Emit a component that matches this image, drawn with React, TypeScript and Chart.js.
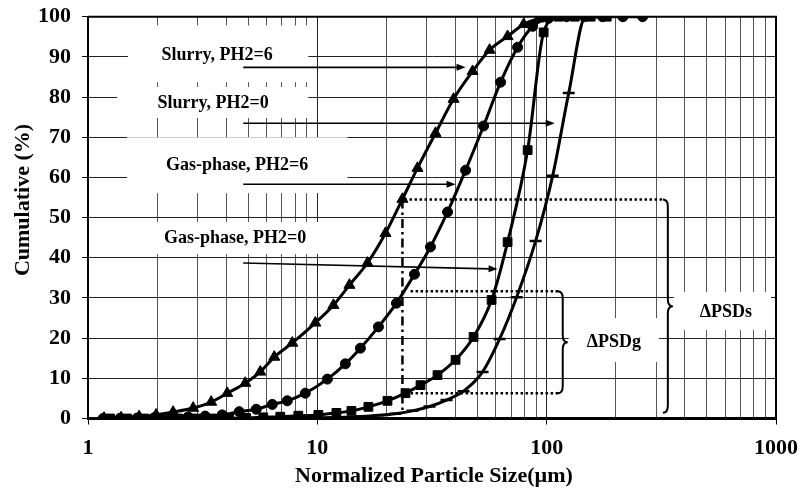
import React, { useEffect, useRef } from 'react';
import { Chart, registerables } from 'chart.js';

Chart.register(...registerables);

// ---- Data (x: normalized particle size in µm, y: cumulative %) ----
const slurry6X = [1.175, 1.394, 1.67, 1.981, 2.35, 2.874, 3.444, 4.046, 4.85, 5.639, 6.491, 7.779, 9.8, 11.75, 13.8, 16.54, 19.82, 23.5, 27.33, 32.76, 39.26, 47.53, 56.38, 67.55, 79.37, 92.29, 109.5];
const slurry6Y = [0.1, 0.2, 0.5, 0.9, 1.6, 2.6, 4.1, 6.3, 8.8, 11.6, 15.3, 18.8, 23.8, 28.2, 33.2, 38.7, 46.1, 54.6, 62.3, 71.0, 79.5, 86.4, 91.7, 95.1, 98.1, 99.5, 100];

const slurry0X = [1.163, 1.38, 1.637, 1.942, 2.304, 2.733, 3.243, 3.847, 4.564, 5.415, 6.362, 7.396, 8.862, 11.06, 13.25, 15.41, 18.47, 22.13, 26.52, 31.13, 36.97, 44.31, 53.07, 62.97, 74.69, 86.89, 102.0, 122.0, 146.0, 175.0, 215.0, 262.0];
const slurry0Y = [0, 0.05, 0.1, 0.2, 0.3, 0.4, 0.6, 0.9, 1.7, 2.3, 3.5, 4.4, 6.3, 9.8, 13.6, 17.5, 22.8, 28.7, 35.9, 42.7, 51.4, 61.8, 72.8, 83.7, 92.4, 97.6, 99.6, 100, 100, 100, 100, 100];

const gas6X = [1.248, 1.48, 1.756, 2.084, 2.472, 2.933, 3.479, 4.128, 4.897, 5.81, 6.893, 8.26, 10.1, 12.11, 14.08, 16.7, 20.22, 24.23, 28.18, 33.42, 40.06, 48.0, 57.52, 67.55, 82.61, 97.03, 112.8, 132.6, 155.6, 182.8];
const gas6Y = [0, 0, 0, 0, 0, 0, 0, 0.05, 0.15, 0.3, 0.45, 0.7, 0.9, 1.4, 1.9, 2.9, 4.4, 6.3, 8.3, 10.8, 14.6, 20.3, 29.5, 43.9, 66.8, 96.1, 100, 100, 100, 100];

const gas0X = [1.198, 1.422, 1.687, 2.001, 2.375, 2.818, 3.342, 3.966, 4.705, 5.581, 6.622, 7.857, 9.32, 11.06, 13.12, 15.57, 18.47, 21.9, 25.99, 30.84, 36.59, 43.41, 52.54, 62.35, 73.96, 89.54, 106.2, 124.8, 148.0, 175.6];
const gas0Y = [0, 0, 0, 0, 0, 0, 0, 0, 0, 0, 0, 0, 0.1, 0.2, 0.3, 0.5, 0.8, 1.2, 1.9, 3.0, 4.6, 6.8, 11.6, 19.8, 30.2, 44.2, 60.4, 81.0, 100, 100];

// ---- Axis ticks ----
const xDecades = [1, 10, 100];
const xMantissas = [1, 2, 3, 4, 5, 6, 7, 8, 9];
const xMax = 1000;
const yTickStep = 10;

// ---- Annotations (data coordinates) ----
const labelTexts = ['Slurry, PH2=6', 'Slurry, PH2=0', 'Gas-phase, PH2=6', 'Gas-phase, PH2=0', 'ΔPSDs', 'ΔPSDg'];
const labelX = [3.66, 3.515, 4.474, 4.385, 604.8, 196.2];
const labelY = [90.4, 78.5, 63.1, 44.9, 26.5, 19.0];
const boxX0 = [1.495, 1.339, 1.48, 1.48, 358.5, 124.8];
const boxX1 = [9.135, 9.135, 13.52, 13.52, 951, 308.4];
const boxY0 = [83.7, 74.8, 56.1, 40.9, 22.0, 14.05];
const boxY1 = [97.8, 82.5, 70.0, 48.9, 31.5, 25.0];

const arrowFromX = [4.753, 4.753, 4.753, 4.753];
const arrowFromY = [87.4, 73.5, 58.3, 38.7];
const arrowToX = [44.3, 108.4, 40.06, 61.1];
const arrowToY = [87.4, 73.5, 58.3, 37.2];

const markX = 23.5; // dash-dot vertical
const markYTop = 54.5;
const markYBot = 1.4;

const dottedY = [54.5, 31.7, 6.3];
const dottedX0 = [24.0, 25.5, 25.5];
const dottedX1 = [324, 112.8, 112.8];

const braceX = [337.6, 117.5];
const braceYTop = [54.5, 31.7];
const braceYBot = [1.4, 6.3];

const FONT = '"Liberation Serif", "Times New Roman", Times, serif';

function isMajor(v: number) {
  const l = Math.log10(v);
  return Math.abs(l - Math.round(l)) < 1e-9;
}

function drawArrow(ctx: CanvasRenderingContext2D, x1: number, y1: number, x2: number, y2: number) {
  const ang = Math.atan2(y2 - y1, x2 - x1);
  const hl = 9;
  const hw = 3.5;
  ctx.beginPath();
  ctx.moveTo(x1, y1);
  ctx.lineTo(x2 - Math.cos(ang) * hl * 0.8, y2 - Math.sin(ang) * hl * 0.8);
  ctx.stroke();
  ctx.beginPath();
  ctx.moveTo(x2, y2);
  ctx.lineTo(x2 - Math.cos(ang) * hl + Math.sin(ang) * hw, y2 - Math.sin(ang) * hl - Math.cos(ang) * hw);
  ctx.lineTo(x2 - Math.cos(ang) * hl - Math.sin(ang) * hw, y2 - Math.sin(ang) * hl + Math.cos(ang) * hw);
  ctx.closePath();
  ctx.fill();
}

function drawBrace(ctx: CanvasRenderingContext2D, bx: number, yTop: number, yBot: number) {
  const mid = (yTop + yBot) / 2;
  const w = 5;
  const c = 7;
  ctx.beginPath();
  ctx.moveTo(bx - w, yTop);
  ctx.quadraticCurveTo(bx, yTop, bx, yTop + c);
  ctx.lineTo(bx, mid - c);
  ctx.quadraticCurveTo(bx, mid, bx + w, mid);
  ctx.quadraticCurveTo(bx, mid, bx, mid + c);
  ctx.lineTo(bx, yBot - c);
  ctx.quadraticCurveTo(bx, yBot, bx - w, yBot);
  ctx.stroke();
}

const annoPlugin = {
  id: 'annos',
  beforeDatasetsDraw(chart: any) {
    const { ctx, chartArea } = chart;
    const xs = chart.scales.x;
    const ys = chart.scales.y;
    ctx.save();
    ctx.fillStyle = '#ffffff';
    for (let i = 0; i < labelTexts.length; i++) {
      const x0 = xs.getPixelForValue(boxX0[i]);
      const x1 = xs.getPixelForValue(boxX1[i]);
      const y0 = ys.getPixelForValue(boxY1[i]);
      const y1 = ys.getPixelForValue(boxY0[i]);
      ctx.fillRect(x0, y0, x1 - x0, y1 - y0);
    }
    ctx.fillStyle = '#000';
    ctx.font = `bold 18px ${FONT}`;
    ctx.textAlign = 'center';
    ctx.textBaseline = 'middle';
    for (let i = 0; i < labelTexts.length; i++) {
      ctx.fillText(labelTexts[i], xs.getPixelForValue(labelX[i]), ys.getPixelForValue(labelY[i]));
    }
    ctx.strokeStyle = '#000';
    ctx.lineWidth = 2;
    ctx.beginPath();
    ctx.moveTo(chartArea.left, chartArea.top);
    ctx.lineTo(chartArea.right, chartArea.top);
    ctx.lineTo(chartArea.right, chartArea.bottom);
    ctx.stroke();
    ctx.restore();
  },
  afterDatasetsDraw(chart: any) {
    const { ctx } = chart;
    const xs = chart.scales.x;
    const ys = chart.scales.y;
    ctx.save();
    ctx.strokeStyle = '#000';
    ctx.fillStyle = '#000';
    ctx.lineWidth = 1.6;
    for (let i = 0; i < arrowFromX.length; i++) {
      drawArrow(
        ctx,
        xs.getPixelForValue(arrowFromX[i]),
        ys.getPixelForValue(arrowFromY[i]),
        xs.getPixelForValue(arrowToX[i]),
        ys.getPixelForValue(arrowToY[i])
      );
    }
    ctx.lineWidth = 2.5;
    ctx.setLineDash([2.5, 2.5]);
    for (let i = 0; i < dottedY.length; i++) {
      const py = ys.getPixelForValue(dottedY[i]);
      ctx.beginPath();
      ctx.moveTo(xs.getPixelForValue(dottedX0[i]), py);
      ctx.lineTo(xs.getPixelForValue(dottedX1[i]), py);
      ctx.stroke();
    }
    ctx.setLineDash([9, 4, 2.5, 4]);
    const mx = xs.getPixelForValue(markX);
    ctx.beginPath();
    ctx.moveTo(mx, ys.getPixelForValue(markYTop));
    ctx.lineTo(mx, ys.getPixelForValue(markYBot));
    ctx.stroke();
    ctx.setLineDash([]);
    ctx.lineWidth = 2;
    for (let i = 0; i < braceX.length; i++) {
      drawBrace(ctx, xs.getPixelForValue(braceX[i]), ys.getPixelForValue(braceYTop[i]), ys.getPixelForValue(braceYBot[i]));
    }
    ctx.restore();
  },
  afterDraw(chart: any) {
    const { ctx, chartArea } = chart;
    ctx.save();
    ctx.fillStyle = '#000';
    ctx.font = `bold 22px ${FONT}`;
    ctx.textAlign = 'center';
    ctx.textBaseline = 'middle';
    ctx.fillText('Normalized Particle Size(µm)', (chartArea.left + chartArea.right) / 2 + 2, 476);
    ctx.translate(23, 200);
    ctx.rotate(-Math.PI / 2);
    ctx.fillText('Cumulative (%)', 0, 0);
    ctx.restore();
  },
};

function series(xs: number[], ys: number[]) {
  return xs.map((x, i) => ({ x, y: ys[i] }));
}

export default function App() {
  const ref = useRef<HTMLCanvasElement | null>(null);
  useEffect(() => {
    if (!ref.current) return;
    const common = {
      borderColor: '#000',
      backgroundColor: '#000',
      pointBackgroundColor: '#000',
      pointBorderColor: '#000',
      borderWidth: 3,
      showLine: true,
      fill: false,
      cubicInterpolationMode: 'monotone' as const,
    };
    const xTicks: number[] = [];
    xDecades.forEach((d) => xMantissas.forEach((m) => xTicks.push(d * m)));
    xTicks.push(xMax);

    const chart = new Chart(ref.current, {
      type: 'line',
      data: {
        datasets: [
          { ...common, label: 'Slurry, PH2=6', data: series(slurry6X, slurry6Y), pointStyle: 'triangle', pointRadius: 6.4, pointBorderWidth: 1 },
          { ...common, label: 'Slurry, PH2=0', data: series(slurry0X, slurry0Y), pointStyle: 'circle', pointRadius: 5, pointBorderWidth: 1 },
          { ...common, label: 'Gas-phase, PH2=6', data: series(gas6X, gas6Y), pointStyle: 'rect', pointRadius: 6.2, pointBorderWidth: 1 },
          { ...common, label: 'Gas-phase, PH2=0', data: series(gas0X, gas0Y), pointStyle: 'line', pointRadius: 6, pointBorderWidth: 2.5 },
        ] as any,
      },
      options: {
        animation: false,
        responsive: false,
        events: [],
        layout: { padding: { top: 16.7, right: 24, left: 0, bottom: 0 } },
        plugins: { legend: { display: false }, tooltip: { enabled: false } },
        scales: {
          x: {
            type: 'logarithmic',
            min: 1,
            max: xMax,
            afterBuildTicks: (s: any) => {
              s.ticks = xTicks.map((v) => ({ value: v }));
            },
            afterFit: (s: any) => {
              s.height = 74.5;
              s.paddingLeft = 0;
              s.paddingRight = 0;
            },
            ticks: {
              autoSkip: false,
              maxRotation: 0,
              minRotation: 0,
              padding: 11,
              color: '#000',
              font: { family: FONT, size: 22, weight: 'bold' },
              callback: (v: any) => (isMajor(Number(v)) ? String(Number(v)) : ''),
            },
            grid: {
              color: (c: any) => (c.tick && isMajor(c.tick.value) ? '#222' : '#555'),
              lineWidth: 1,
              tickLength: 6,
              tickColor: (c: any) => (c.tick && isMajor(c.tick.value) ? '#000' : 'rgba(0,0,0,0)'),
            },
            border: { display: true, color: '#000', width: 3 },
          },
          y: {
            min: 0,
            max: 100,
            afterFit: (s: any) => {
              s.width = 88;
              s.paddingTop = 0;
              s.paddingBottom = 0;
            },
            ticks: {
              stepSize: yTickStep,
              padding: 11,
              color: '#000',
              font: { family: FONT, size: 22, weight: 'bold' },
            },
            grid: { color: '#222', lineWidth: 1, tickLength: 6, tickColor: '#000' },
            border: { display: true, color: '#000', width: 2 },
          },
        },
      } as any,
      plugins: [annoPlugin],
    });
    return () => chart.destroy();
  }, []);
  return (
    <div style={{ position: 'fixed', left: 0, top: 0, width: 800, height: 493, background: '#fff' }}>
      <canvas ref={ref} width={800} height={493} style={{ display: 'block', width: 800, height: 493 }} />
    </div>
  );
}
